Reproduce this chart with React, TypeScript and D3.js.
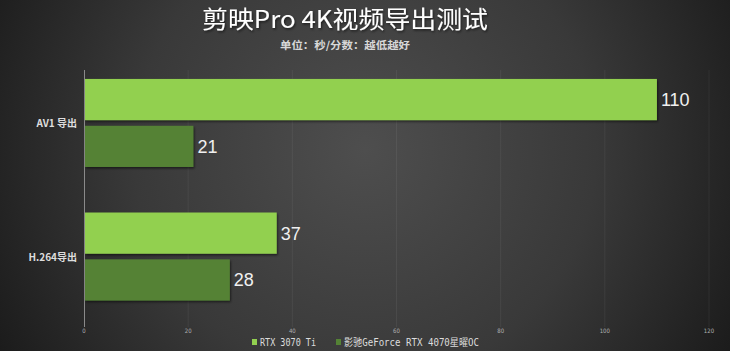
import { useEffect, useRef } from "react";
import * as d3 from "d3";

const categories = ["AV1 导出", "H.264导出"];
const series = ["RTX 3070 Ti", "影驰GeForce RTX 4070星曜OC"];
const rtx3070ti = [110, 37];
const rtx4070 = [21, 28];
const xTicks = [0, 20, 40, 60, 80, 100, 120];
const colors = ["#92d050", "#548235"];

const W = 730;
const H = 351;

const App = () => {
  const svgRef = useRef<SVGSVGElement>(null);

  useEffect(() => {
    const svg = d3.select(svgRef.current);
    svg.selectAll("*").remove();

    const defs = svg.append("defs");
    const grad = defs
      .append("radialGradient")
      .attr("id", "bg")
      .attr("gradientUnits", "userSpaceOnUse")
      .attr("cx", 365)
      .attr("cy", 150)
      .attr("r", 420);
    grad.append("stop").attr("offset", "0%").attr("stop-color", "#4e4e4e");
    grad.append("stop").attr("offset", "55%").attr("stop-color", "#393939");
    grad.append("stop").attr("offset", "100%").attr("stop-color", "#1b1b1b");

    const shadow = defs.append("filter").attr("id", "sh").attr("x", "-10%").attr("y", "-10%").attr("width", "130%").attr("height", "140%");
    shadow
      .append("feDropShadow")
      .attr("dx", 1)
      .attr("dy", 1.5)
      .attr("stdDeviation", 0.8)
      .attr("flood-color", "#000")
      .attr("flood-opacity", 0.55);

    svg.append("rect").attr("width", W).attr("height", H).attr("fill", "url(#bg)");

    const x = d3.scaleLinear().domain([0, 120]).range([84, 709]);
    const y0 = d3
      .scaleBand()
      .domain(categories)
      .range([70, 309.5])
      .paddingInner(0.341)
      .paddingOuter(0.067);
    const y1 = d3
      .scaleBand()
      .domain(series)
      .range([0, y0.bandwidth()])
      .paddingInner(0.12);

    // grid lines
    svg
      .append("g")
      .selectAll("line")
      .data(xTicks.slice(1))
      .join("line")
      .attr("x1", (d) => x(d))
      .attr("x2", (d) => x(d))
      .attr("y1", 70)
      .attr("y2", 327)
      .attr("stroke", "rgba(255,255,255,0.06)")
      .attr("stroke-width", 1);

    // axis line
    svg
      .append("line")
      .attr("x1", x(0) + 0.5)
      .attr("x2", x(0) + 0.5)
      .attr("y1", 70)
      .attr("y2", 327)
      .attr("stroke", "#8a8a8a")
      .attr("stroke-width", 1);

    // tick labels
    svg
      .append("g")
      .selectAll("text")
      .data(xTicks)
      .join("text")
      .attr("x", (d) => x(d))
      .attr("y", 333)
      .attr("text-anchor", "middle")
      .attr("font-family", "'DejaVu Sans Condensed', 'DejaVu Sans', sans-serif")
      .attr("font-size", 6)
      .attr("fill", "#b0b0b0")
      .text((d) => d);

    const data = categories.map((c, i) => ({
      cat: c,
      values: [rtx3070ti[i], rtx4070[i]],
    }));

    const groups = svg
      .append("g")
      .selectAll("g")
      .data(data)
      .join("g")
      .attr("transform", (d) => `translate(0,${y0(d.cat)})`);

    groups
      .selectAll("rect")
      .data((d) => d.values.map((v, j) => ({ v, s: series[j], j })))
      .join("rect")
      .attr("x", x(0) + 1)
      .attr("y", (d) => y1(d.s)!)
      .attr("width", (d) => x(d.v) - x(0) - 1)
      .attr("height", y1.bandwidth())
      .attr("fill", (d) => colors[d.j])
      .attr("filter", "url(#sh)");

    groups
      .selectAll("text.val")
      .data((d) => d.values.map((v, j) => ({ v, s: series[j], j })))
      .join("text")
      .attr("class", "val")
      .attr("x", (d) => x(d.v) + 4)
      .attr("y", (d) => y1(d.s)! + y1.bandwidth() / 2 + 6.5)
      .attr("font-family", "'Liberation Sans', Arial, sans-serif")
      .attr("font-size", 18)
      .attr("fill", "#f0f0f0")
      .text((d) => d.v);

    // category labels
    svg
      .append("g")
      .selectAll("text")
      .data(categories)
      .join("text")
      .attr("x", 77)
      .attr("y", (d) => y0(d)! + y0.bandwidth() / 2 + 4)
      .attr("text-anchor", "end")
      .attr("font-family", "'Noto Sans CJK SC', sans-serif")
      .attr("font-size", 10)
      .attr("font-weight", "bold")
      .attr("fill", "#dddddd")
      .text((d) => d);

    // title
    svg
      .append("text")
      .attr("x", 345)
      .attr("y", 28)
      .attr("text-anchor", "middle")
      .attr("font-family", "'Noto Sans CJK SC', sans-serif")
      .attr("font-size", 24)
      .attr("fill", "#ffffff")
      .attr("textLength", 286)
      .attr("lengthAdjust", "spacingAndGlyphs")
      .attr("filter", "url(#sh)")
      .text("剪映Pro 4K视频导出测试");

    svg
      .append("text")
      .attr("x", 345)
      .attr("y", 49)
      .attr("text-anchor", "middle")
      .attr("font-family", "'Noto Sans CJK SC', sans-serif")
      .attr("font-size", 10.5)
      .attr("font-weight", "bold")
      .attr("fill", "#d8d8d8")
      .attr("textLength", 130)
      .attr("lengthAdjust", "spacingAndGlyphs")
      .text("单位：秒/分数：越低越好");

    // legend
    const legendX = [252, 336];
    const legendW = [56, 135];
    const lg = svg
      .append("g")
      .selectAll("g")
      .data(series)
      .join("g")
      .attr("transform", (d, i) => `translate(${legendX[i]},339)`);
    lg.append("rect")
      .attr("width", 5)
      .attr("height", 6)
      .attr("fill", (d, i) => colors[i]);
    lg.append("text")
      .attr("x", 8)
      .attr("y", 7)
      .attr("font-family", "'DejaVu Sans Mono', 'Noto Sans CJK SC', monospace")
      .attr("font-size", 10)
      .attr("fill", "#dddddd")
      .attr("textLength", (d, i) => legendW[i])
      .attr("lengthAdjust", "spacingAndGlyphs")
      .text((d) => d);
  }, []);

  return (
    <svg
      ref={svgRef}
      width={W}
      height={H}
      style={{ position: "absolute", left: 0, top: 0, display: "block" }}
    ></svg>
  );
};

export default App;
